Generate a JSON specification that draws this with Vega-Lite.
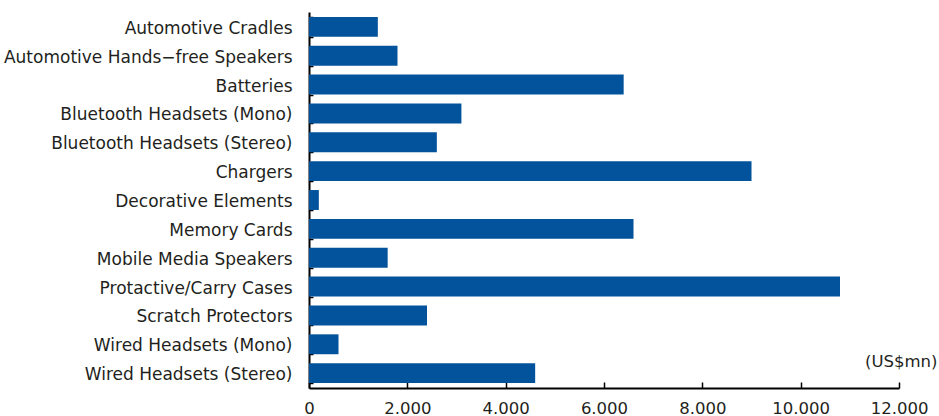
{
  "$schema": "https://vega.github.io/schema/vega-lite/v6.json",
  "autosize": "none",
  "width": 590,
  "height": 376,
  "padding": {"left": 309, "top": 12, "right": 40, "bottom": 28},
  "background": "white",
  "config": {
    "view": {"stroke": null},
    "font": "DejaVu Sans",
    "axis": {"labelFont": "DejaVu Sans", "titleFont": "DejaVu Sans", "labelColor": "#231f20", "titleColor": "#231f20", "domainColor": "#000000", "tickColor": "#000000", "grid": false}
  },
  "data": {
    "values": [
      {"category": "Automotive Cradles", "value": 1400},
      {"category": "Automotive Hands−free Speakers", "value": 1800},
      {"category": "Batteries", "value": 6400},
      {"category": "Bluetooth Headsets (Mono)", "value": 3100},
      {"category": "Bluetooth Headsets (Stereo)", "value": 2600},
      {"category": "Chargers", "value": 9000},
      {"category": "Decorative Elements", "value": 200},
      {"category": "Memory Cards", "value": 6600},
      {"category": "Mobile Media Speakers", "value": 1600},
      {"category": "Protactive/Carry Cases", "value": 10800},
      {"category": "Scratch Protectors", "value": 2400},
      {"category": "Wired Headsets (Mono)", "value": 600},
      {"category": "Wired Headsets (Stereo)", "value": 4600}
    ]
  },
  "mark": {"type": "bar", "color": "#03529C"},
  "encoding": {
    "y": {
      "field": "category",
      "type": "nominal",
      "sort": null,
      "scale": {"paddingInner": 0.31, "paddingOuter": 0.17},
      "axis": {
        "title": null,
        "domainWidth": 2,
        "tickBand": "extent",
        "tickSize": -4,
        "tickWidth": 1.5,
        "labelPadding": 21,
        "labelOffset": 1.5,
        "labelFontSize": 17,
        "labelLimit": 400
      }
    },
    "x": {
      "field": "value",
      "type": "quantitative",
      "scale": {"domain": [0, 12000], "nice": false},
      "axis": {
        "values": [0, 2000, 4000, 6000, 8000, 10000, 12000],
        "labelExpr": "replace(format(datum.value, ',d'), ',', '.')",
        "domainWidth": 2,
        "tickSize": -6,
        "tickWidth": 1.5,
        "labelPadding": 18,
        "labelFontSize": 16.5,
        "labelFlush": false,
        "title": "(US$mn)",
        "titleFontSize": 16.5,
        "titleFontWeight": "normal",
        "titleAnchor": "start",
        "titleAlign": "right",
        "titleBaseline": "middle",
        "titleX": 628,
        "titleY": -27
      }
    }
  }
}
